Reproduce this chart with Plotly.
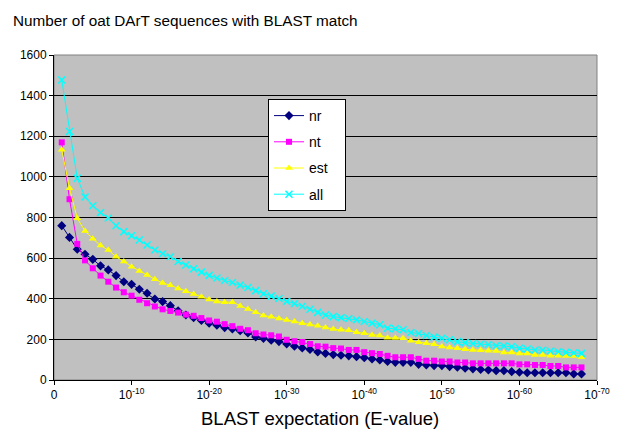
import plotly.graph_objects as go

# x position = exponent of E-value threshold (10^-k)
exponent = [1, 2, 3, 4, 5, 6, 7, 8, 9, 10, 11, 12, 13, 14, 15, 16, 17, 18, 19, 20,
            21, 22, 23, 24, 25, 26, 27, 28, 29, 30, 31, 32, 33, 34, 35, 36, 37, 38, 39, 40,
            41, 42, 43, 44, 45, 46, 47, 48, 49, 50, 51, 52, 53, 54, 55, 56, 57, 58, 59, 60,
            61, 62, 63, 64, 65, 66, 67, 68]

nr = [760, 702, 644, 619, 594, 562, 542, 514, 484, 471, 447, 427, 399, 386, 366, 341, 320, 307, 293, 280,
      270, 258, 251, 243, 232, 212, 205, 196, 189, 177, 166, 158, 150, 138, 131, 125, 122, 119, 115, 110,
      104, 99, 91, 87, 87, 87, 77, 74, 71, 71, 66, 63, 58, 55, 52, 49, 46, 46, 41, 38,
      36, 36, 36, 36, 36, 36, 30, 30]

nt = [1170, 890, 670, 589, 550, 514, 484, 455, 432, 415, 395, 378, 362, 348, 340, 332, 322, 316, 305, 293,
      287, 275, 265, 252, 245, 230, 224, 220, 214, 198, 191, 187, 177, 166, 164, 157, 155, 148, 148, 137,
      132, 128, 119, 112, 112, 112, 104, 95, 95, 91, 91, 86, 86, 82, 82, 82, 82, 82, 82, 77,
      77, 74, 74, 69, 69, 62, 62, 62]

est = [1133, 944, 796, 734, 696, 662, 640, 607, 583, 558, 537, 517, 496, 477, 466, 451, 437, 424, 410, 396,
       387, 383, 383, 364, 349, 334, 318, 311, 303, 295, 288, 280, 273, 267, 259, 251, 247, 245, 235, 230,
       222, 219, 208, 207, 206, 193, 186, 181, 176, 165, 160, 156, 151, 148, 147, 144, 143, 136, 136, 131,
       131, 123, 123, 120, 120, 118, 118, 112]

all_ = [1477, 1223, 993, 901, 858, 824, 798, 759, 730, 710, 689, 665, 640, 622, 607, 583, 566, 548, 531, 515,
        502, 490, 480, 467, 455, 440, 425, 413, 401, 387, 376, 363, 348, 333, 320, 312, 307, 303, 296, 288,
        280, 272, 255, 252, 247, 234, 229, 219, 211, 206, 198, 189, 184, 180, 177, 175, 169, 167, 164, 156,
        153, 148, 148, 143, 139, 136, 133, 131]

tick_vals = [0, 10, 20, 30, 40, 50, 60, 70]
tick_text = ["0", "10<sup>-10</sup>", "10<sup>-20</sup>", "10<sup>-30</sup>", "10<sup>-40</sup>",
             "10<sup>-50</sup>", "10<sup>-60</sup>", "10<sup>-70</sup>"]

FONT = "Arial, 'Liberation Sans', sans-serif"

# plot area in pixels
L, R, T, B = 46, 40, 47, 76
W, H = 629, 448
PW, PH = W - L - R, H - T - B

def px_x(x):
    return (x - L) / PW

def px_y(y):
    return (H - B - y) / PH

fig = go.Figure()
series = [
    ("nr", nr, "#000080", "diamond", 7),
    ("nt", nt, "#FF00FF", "square", 6),
    ("est", est, "#FFFF00", "triangle-up", 7),
    ("all", all_, "#00FFFF", "x-thin", 7),
]
pad = "\u00a0\u00a0\u00a0"
for name, vals, col, sym, sz in series:
    fig.add_trace(go.Scatter(
        x=exponent, y=vals, name=name + pad, mode="lines+markers",
        legendgroup=name,
        line=dict(color=col, width=1),
        marker=dict(symbol=sym, size=sz, color=col,
                    line=dict(color=col, width=1.5 if sym == "x-thin" else 0)),
    ))

fig.update_layout(
    width=W, height=H,
    margin=dict(l=L, r=R, t=T, b=B),
    paper_bgcolor="white",
    plot_bgcolor="#C0C0C0",
    font=dict(family=FONT, size=12, color="black"),
    title=dict(text="Number of oat DArT sequences with BLAST match",
               x=5 / W, xanchor="left", xref="container",
               y=1 - 13 / H, yanchor="middle", yref="container",
               font=dict(family=FONT, size=15.3, color="black")),
    showlegend=True,
    legend=dict(x=px_x(260), y=px_y(91), xanchor="left", yanchor="top",
                bgcolor="white", bordercolor="black", borderwidth=1,
                font=dict(family=FONT, size=14, color="black"),
                tracegroupgap=5, itemwidth=30),
    xaxis=dict(range=[0, 70], tickmode="array", tickvals=tick_vals, ticktext=tick_text,
               showgrid=False, zeroline=False, showline=True, linecolor="black", linewidth=1,
               ticks="outside", ticklen=4, tickcolor="black",
               tickfont=dict(family=FONT, size=12, color="black")),
    yaxis=dict(range=[0, 1600], dtick=200, tick0=0,
               showgrid=True, gridcolor="black", gridwidth=1,
               zeroline=False, showline=True, linecolor="black", linewidth=1,
               ticks="outside", ticklen=4, tickcolor="black",
               tickfont=dict(family=FONT, size=12, color="black")),
    annotations=[dict(text="BLAST expectation (E-value)", xref="paper", yref="paper",
                      x=px_x(312), y=px_y(410), xanchor="center", yanchor="middle",
                      showarrow=False, font=dict(family=FONT, size=18.5, color="black"))],
)
# plot-area border (grey)
fig.add_shape(type="rect", xref="paper", yref="paper", x0=0, y0=0, x1=1, y1=1,
              line=dict(color="#808080", width=1), layer="below")

fig.write_html("out.html")
